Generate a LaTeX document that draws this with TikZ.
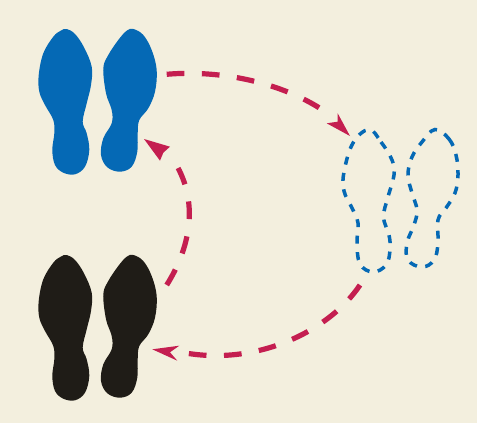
\documentclass[tikz,border=0pt]{standalone}
\definecolor{paper}{HTML}{F3EFDE}
\definecolor{shoeblue}{HTML}{0569B5}
\definecolor{shoeblack}{HTML}{1F1C17}
\definecolor{crimson}{HTML}{C41E50}
\newcommand{\leftsole}{(66.7,29) (75,34) (84,47.3) (91.7,66.7) (91,85) (86.7,103.3) (82.7,121.7) (86.7,133.3) (89.3,150) (85,166.7) (75,174.3) (63.3,172.7) (55,165) (52.3,150) (54.3,133.3) (53.3,120) (45,105) (39.3,91.7) (38.7,75) (43.3,53.3) (53.3,36.7) (60.7,30.7)}
\newcommand{\rightsole}{(133.3,29) (143.3,35) (151.7,50) (156.7,70) (155,91.7) (148.3,108.3) (139.3,120) (137.7,133.3) (137.3,151.7) (131.7,166.7) (120,171.7) (107.3,167.3) (101,155) (103.3,138.3) (111.7,123.3) (111.7,110) (106,93.3) (103.3,68.3) (108.3,55) (118.3,40) (126.7,30.7)}
\tikzset{
  solid sole/.style={smooth cycle,tension=.6},
  route/.style={draw=crimson,line width=5.2pt,dash pattern=on 17.7pt off 17.5pt},
  tip/.style={fill=crimson,draw=none},
  ghost/.style={draw=shoeblue,line width=3.5pt,dash pattern=on 8pt off 8.5pt,fill=none}
}
\begin{document}
\begin{tikzpicture}[x=1pt,y=-1pt]
\useasboundingbox (0,0) rectangle (477,423);
\fill[paper] (0,0) rectangle (477,423);
% blue feet
\fill[shoeblue] plot[solid sole] coordinates {\leftsole};
\fill[shoeblue] plot[solid sole] coordinates {\rightsole};
% black feet
\begin{scope}[yshift=-226pt]
\fill[shoeblack] plot[solid sole] coordinates {\leftsole};
\fill[shoeblack] plot[solid sole] coordinates {\rightsole};
\end{scope}
% dashed feet
\draw[ghost] plot[smooth cycle,tension=.65] coordinates {(369,129.5) (381,142) (392,160) (394,175) (388,197) (383.5,217) (389,235) (390,250) (386,265) (373,272) (360,264) (357,243) (358,223) (352,208) (344,191) (344,172) (353,143)};
\draw[ghost] plot[smooth cycle,tension=.65] coordinates {(435,129.5) (449,139) (456,155) (458,175) (455,193) (446,208) (438,220) (438,243) (434,260) (422,267) (408,260) (407,243) (414,225) (417,210) (412,193) (408,175) (412,157) (422,142)};
% connectors
\coordinate (a1) at (166.7,74.3); \coordinate (a2) at (320,108.3);
\coordinate (b1) at (360,285);    \coordinate (b2) at (187.3,353.3);
\coordinate (c1) at (166.7,285);  \coordinate (c2) at (177.7,167.3);
\draw[route] (a1) .. controls (215,70) and (275,80) .. (a2);
\draw[route] (b1) .. controls (330,330) and (260,365) .. (b2);
\draw[route] (c1) .. controls (190,248) and (198,205) .. (c2);
% arrow tips
\fill[tip] (350,136) -- (337.7,113.3) -- (337.7,121.7) -- (326.7,123.3) -- cycle;
\fill[tip] (152.3,349.3) -- (179.3,345.7) -- (170,352.3) -- (177.3,360.7) -- cycle;
\fill[tip] (144,139) -- (170,146.7) -- (163.3,152.7) -- (160,160.7) -- cycle;
\end{tikzpicture}
\end{document}
